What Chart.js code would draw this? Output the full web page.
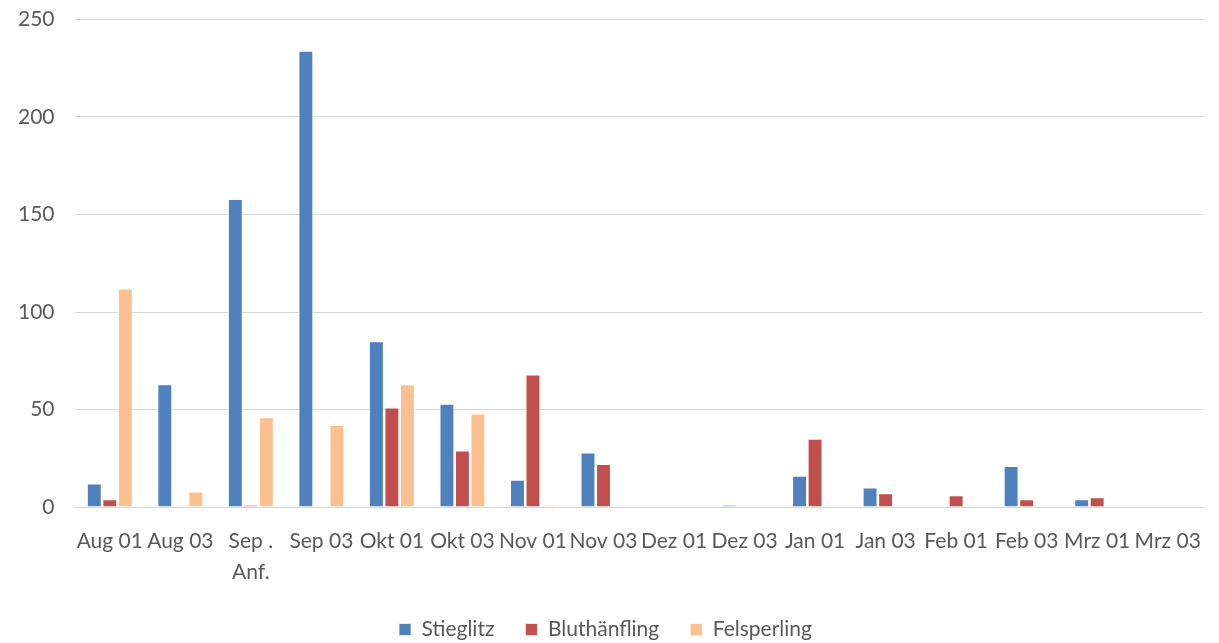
<!DOCTYPE html>
<html>
<head>
<meta charset="utf-8">
<script src="https://cdn.jsdelivr.net/npm/chart.js@4/dist/chart.umd.min.js"></script>
<style>
  html, body { margin: 0; padding: 0; background: #ffffff; }
  #wrap { position: relative; width: 1219px; height: 643px; }
</style>
</head>
<body>
<div id="wrap"><canvas id="c"></canvas></div>
<script>
// Survey dates (two-line label for the start of September)
const categories = ['Aug 01', 'Aug 03', ['Sep .', 'Anf.'], 'Sep 03', 'Okt 01', 'Okt 03', 'Nov 01', 'Nov 03',
                    'Dez 01', 'Dez 03', 'Jan 01', 'Jan 03', 'Feb 01', 'Feb 03', 'Mrz 01', 'Mrz 03'];

// Bird counts per date
const stieglitz     = [12, 63, 158, 234, 85, 53, 14, 28, 0, 1, 16, 10, 0, 21, 4, 0];
const bluthaenfling = [4, 0, 1, 0, 51, 29, 68, 22, 0, 0, 35, 7, 6, 4, 5, 0];
const felsperling   = [112, 8, 46, 42, 63, 48, 1, 0, 0, 0, 0, 0, 0, 0, 0, 0];

const yTicks = [0, 50, 100, 150, 200, 250];

const FONT = 'Lato, "Open Sans", sans-serif';

new Chart(document.getElementById('c'), {
  type: 'bar',
  data: {
    labels: categories,
    datasets: [
      { label: 'Stieglitz', data: stieglitz, backgroundColor: '#4F81BD', borderColor: 'rgba(255,255,255,0.7)', borderWidth: 1 },
      { label: 'Bluthänfling', data: bluthaenfling, backgroundColor: '#C0504D', borderColor: 'rgba(255,255,255,0.7)', borderWidth: 1 },
      { label: 'Felsperling', data: felsperling, backgroundColor: '#FAC090', borderColor: 'rgba(255,255,255,0.7)', borderWidth: 1 }
    ]
  },
  options: {
    responsive: true,
    maintainAspectRatio: false,
    animation: false,
    layout: { padding: { top: 0, right: 6, left: -2, bottom: -7 } },
    datasets: { bar: { barPercentage: 0.96, categoryPercentage: 0.66 } },
    plugins: {
      tooltip: { enabled: false },
      legend: {
        position: 'bottom',
        labels: {
          boxWidth: 12, boxHeight: 12, padding: 31,
          color: '#595959',
          font: { family: FONT, size: 21 },
          useBorderRadius: false
        }
      }
    },
    scales: {
      x: {
        grid: { display: false, drawTicks: false },
        border: { display: true, color: '#D9D9D9', width: 1 },
        ticks: { color: '#595959', font: { family: FONT, size: 21, lineHeight: 1.5 }, maxRotation: 0, autoSkip: false, padding: 18 },
        afterFit: (scale) => { scale.height = scale.height - 18; }
      },
      y: {
        min: 0, max: 250,
        afterBuildTicks: (axis) => { axis.ticks = yTicks.map(v => ({ value: v })); },
        // keep only room for half a label above the top gridline
        afterFit: (scale) => { scale.paddingTop = 19.5; },
        grid: { color: '#D9D9D9', lineWidth: 1, drawTicks: false },
        border: { display: false },
        ticks: { color: '#595959', font: { family: FONT, size: 21 }, padding: 20 }
      }
    }
  }
});
</script>
</body>
</html>
